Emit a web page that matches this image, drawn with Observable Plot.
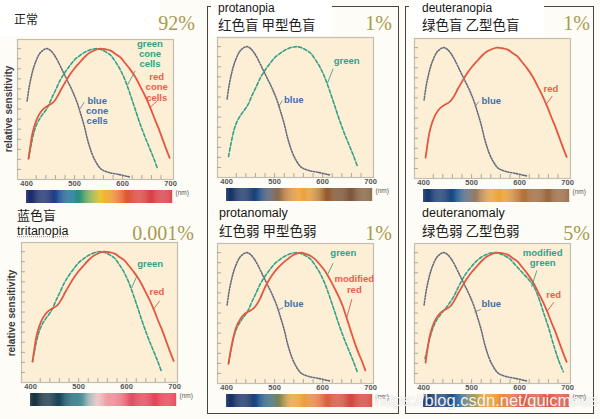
<!DOCTYPE html>
<html><head><meta charset="utf-8">
<script src="https://cdn.jsdelivr.net/npm/d3@7"></script>
<script src="https://cdn.jsdelivr.net/npm/@observablehq/plot@0.6"></script>
<style>
html,body{margin:0;padding:0;background:#fdfcf6;}
#root{position:relative;width:600px;height:419px;overflow:hidden;background:#fdfcf6;font-family:"Liberation Sans",Arial,sans-serif;}
.box{position:absolute;border:1.5px solid #4a443f;box-sizing:border-box;}
.cover{position:absolute;background:#ffffff;}
.en{position:absolute;font-family:"Liberation Sans",Arial,sans-serif;font-size:12px;line-height:13px;color:#151515;white-space:nowrap;}
.zh{position:absolute;font-family:"Noto Sans CJK SC";font-size:13.5px;line-height:1;color:#222;white-space:nowrap;}
.pct{position:absolute;font-family:"Liberation Serif","DejaVu Serif",serif;font-size:20px;line-height:1;color:#a89a50;white-space:nowrap;}
.ylab{position:absolute;font-family:"Liberation Sans",Arial,sans-serif;font-weight:bold;font-size:10px;line-height:1;color:#3c3c3c;white-space:nowrap;transform:translate(-50%,-50%) rotate(-90deg);}
.wm{position:absolute;font-family:"Liberation Sans",Arial,sans-serif;font-size:16.5px;line-height:1;color:rgba(255,255,255,0.92);text-shadow:0 0 1.5px rgba(90,90,90,0.35);white-space:nowrap;}
.plotwrap{position:absolute;}
</style>
</head><body>
<div id="root"></div>
<script>
// ---------- data (wavelength nm / relative sensitivity) ----------
const nmBlue  = [401,405,410,415,420,425,430,437,443,450,457,465,475,485,495,505,512,520,528,537,545,555,570,590,614];
const valBlue = [0.60,0.70,0.79,0.86,0.91,0.95,0.975,0.995,1.0,0.985,0.955,0.905,0.83,0.755,0.68,0.59,0.51,0.41,0.29,0.19,0.13,0.08,0.055,0.04,0.02];

const nmGreen  = [404,408,412,416,422,430,438,445,452,460,470,480,490,500,510,520,530,540,546,555,565,575,585,595,605,615,625,635,645,655,665,672];
const valGreen = [0.16,0.24,0.31,0.37,0.43,0.48,0.52,0.56,0.62,0.68,0.76,0.82,0.87,0.915,0.945,0.97,0.988,0.998,1.0,0.993,0.975,0.95,0.9,0.84,0.76,0.66,0.55,0.44,0.34,0.25,0.16,0.09];

const nmRed  = [404,408,412,418,425,435,445,452,458,465,472,480,490,500,512,522,532,543,553,565,575,585,595,605,616,627,637,648,658,666,674,682,690,698];
const valRed = [0.16,0.26,0.35,0.43,0.49,0.54,0.565,0.58,0.6,0.64,0.69,0.74,0.8,0.85,0.9,0.94,0.97,0.99,1.0,0.995,0.985,0.96,0.935,0.89,0.84,0.78,0.71,0.63,0.545,0.47,0.4,0.32,0.24,0.165];

const nmModRed  = [404,408,414,420,428,437,446,455,462,470,478,485,495,506,517,527,538,548,556,565,575,584,594,605,616,626,634,642,650,658,666,674,682,689];
const valModRed = [0.15,0.24,0.35,0.43,0.49,0.53,0.55,0.57,0.6,0.65,0.72,0.77,0.83,0.88,0.92,0.95,0.98,0.995,1.0,0.99,0.975,0.95,0.91,0.86,0.79,0.72,0.66,0.59,0.5,0.41,0.32,0.24,0.17,0.1];

const nmModGreen  = [403,408,414,420,428,436,445,453,462,470,480,490,500,510,520,530,540,550,560,570,580,590,600,610,620,628,635,642,650,660,672,682,691];
const valModGreen = [0.19,0.27,0.36,0.43,0.49,0.53,0.57,0.61,0.66,0.72,0.79,0.85,0.895,0.935,0.965,0.985,0.997,1.0,0.99,0.975,0.95,0.91,0.87,0.83,0.79,0.75,0.70,0.63,0.54,0.43,0.28,0.17,0.09];

// panel texts
const titleEn     = ["", "protanopia", "deuteranopia", "tritanopia", "protanomaly", "deuteranomaly"];
const titleZh     = ["正常", "红色盲 甲型色盲", "绿色盲 乙型色盲", "蓝色盲", "红色弱 甲型色弱", "绿色弱 乙型色弱"];
const percentText = ["92%", "1%", "1%", "0.001%", "1%", "5%"];
const panelCurves = [
  ["blue","green","red"],
  ["blue","green"],
  ["blue","red"],
  ["green","red"],
  ["blue","green","modRed"],
  ["blue","modGreen","red"]
];
// curve labels: text, wavelength, sensitivity, colour key
const panelLabels = [
  [["blue\ncone\ncells",547,0.636,"blue"],["green\ncone\ncells",657,1.07,"green"],["red\ncone\ncells",671,0.816,"red"]],
  [["green",650,0.926,"green"],["blue",540,0.625,"blue"]],
  [["red",665,0.716,"red"],["blue",541,0.625,"blue"]],
  [["green",649,0.938,"green"],["red",663,0.722,"red"]],
  [["green",643,1.03,"green"],["modified\nred",666,0.829,"red"],["blue",540,0.644,"blue"]],
  [["modified\ngreen",648,1.034,"green"],["red",671,0.71,"red"],["blue",541,0.644,"blue"]]
];
// leader lines: nm1, s1, nm2, s2, colour key
const panelLeaders = [
  [[520,0.59,510,0.535,"blue"],[626,0.83,610,0.72,"green"],[672,0.6,657,0.55,"red"]],
  [[622,0.833,610,0.72,"green"],[516,0.588,508,0.54,"blue"]],
  [[668,0.63,655,0.565,"red"],[515,0.588,507,0.55,"blue"]],
  [[621,0.81,610,0.72,"green"],[669,0.625,656,0.56,"red"]],
  [[622,0.92,610,0.83,"green"],[661,0.645,650,0.5,"red"],[518,0.58,507,0.56,"blue"]],
  [[636,0.864,625,0.74,"green"],[671,0.62,657,0.55,"red"],[519,0.566,506,0.545,"blue"]]
];
// colour bar stops
const barNm = [
  [400,449,467,497,518,539,556,573,594,621,655,704],
  [400,449,470,497,525,552,573,607,635,704],
  [400,449,470,491,512,540,568,595,630,704],
  [400,449,477,498,519,540,561,589,616,704],
  [400,449,471,492,513,534,555,584,612,654,704],
  [400,455,475,495,515,535,555,575,595,625,704]
];
const barColors = [
  ["#1e2b6a","#1f3577","#1e4f94","#1f7c9a","#3a9a6a","#9ab440","#f0c233","#f0a030","#e87032","#d94a3a","#d8444a","#d84048"],
  ["#1a3568","#1b3a6e","#1f4f8a","#6a6060","#c08040","#f0a542","#e8a040","#9a6030","#7a5035","#8a6848"],
  ["#1a3a70","#1b3f76","#1e5590","#5a6a80","#a08060","#e8a040","#f0a838","#c07a3a","#a06a40","#9a6a48"],
  ["#1a3440","#1b3c4c","#1a5a70","#2a7a8a","#8ab0b0","#e8c0c0","#f0a0a8","#e87080","#e04a60","#e84458"],
  ["#1a3268","#1b376e","#1f5590","#3a7080","#8a8a50","#e8a040","#f0a840","#e88040","#d86040","#d04a40","#d84a40"],
  ["#1e3a6e","#1f4c8a","#2060a0","#7a8a70","#c8a84a","#f0a030","#f09a38","#e87840","#e0684a","#e0604a","#e05848"]
];

// ---------- layout (pixels) ----------
const layout = [
  {fl:17, ft:39}, {fl:217, ft:37}, {fl:414, ft:38},
  {fl:21, ft:242}, {fl:217, ft:243}, {fl:414, ft:243}
];
const FW = 156, FH = 140;
const xDomain = [381, 706];
const yDomain = [0, 1.07];
const xTickLabels = [400, 500, 600, 700];
const xMinorTicks = d3.range(420, 700, 20);
const yMinorTicks = d3.range(1, 14).map(k => k / 13);

const curveData = {
  blue: nmBlue.map((n,i)=>({nm:n, s:valBlue[i]})),
  green: nmGreen.map((n,i)=>({nm:n, s:valGreen[i]})),
  red: nmRed.map((n,i)=>({nm:n, s:valRed[i]})),
  modRed: nmModRed.map((n,i)=>({nm:n, s:valModRed[i]})),
  modGreen: nmModGreen.map((n,i)=>({nm:n, s:valModGreen[i]}))
};
const curveStyle = {
  blue: {stroke:"#676d7c", strokeWidth:1.6, strokeDasharray:"1.3,1.6"},
  green: {stroke:"#34a085", strokeWidth:1.6, strokeDasharray:"3.5,2"},
  modGreen: {stroke:"#34a085", strokeWidth:1.6, strokeDasharray:"3.5,2"},
  red: {stroke:"#e4573f", strokeWidth:1.8},
  modRed: {stroke:"#e4573f", strokeWidth:1.8}
};
const labelColor = {blue:"#4270a8", green:"#2fa38a", red:"#e8604a"};
const leaderColor = {blue:"#6f86a6", green:"#4a9c8a", red:"#c8604e"};

const root = document.getElementById("root");
function addDiv(cls, text, style) {
  const d = document.createElement("div");
  d.className = cls;
  d.textContent = text;
  Object.assign(d.style, style);
  root.appendChild(d);
  return d;
}

// column boxes
addDiv("box", "", {left:"207px", top:"6px", width:"192px", height:"408px"});
addDiv("box", "", {left:"405px", top:"6px", width:"189px", height:"408px"});
addDiv("cover", "", {left:"211px", top:"0px", width:"121px", height:"36px"});
addDiv("cover", "", {left:"409px", top:"0px", width:"135px", height:"36px"});
addDiv("cover", "", {left:"0px", top:"0px", width:"160px", height:"36px"});

function chart(p) {
  const L = layout[p];
  const marks = [
    Plot.frame({fill:"#fcefd6", stroke:"#c4beb2", strokeWidth:1.2}),
    Plot.ruleY(yMinorTicks, {y:d=>d, insetRight: FW - 4, stroke:"#a49f96", strokeWidth:0.9}),
    Plot.ruleX(xMinorTicks, {x:d=>d, insetTop: FH - 4, stroke:"#a49f96", strokeWidth:0.9}),
    Plot.axisX({ticks: xTickLabels, tickSize:0, tickPadding:1, fontSize:7.5, fontWeight:"bold", fill:"#555", label:null})
  ];
  for (const c of panelCurves[p]) {
    marks.push(Plot.line(curveData[c], {x:"nm", y:"s", curve:"catmull-rom", ...curveStyle[c]}));
  }
  const leaders = panelLeaders[p].map(([a,b,c,d,k]) => ({x1:a, y1:b, x2:c, y2:d, col:leaderColor[k]}));
  marks.push(Plot.link(leaders, {x1:"x1", y1:"y1", x2:"x2", y2:"y2", stroke:"col", strokeWidth:0.9}));
  const labels = panelLabels[p].map(([t,n,s,k]) => ({t, nm:n, s, col:labelColor[k]}));
  marks.push(Plot.text(labels, {x:"nm", y:"s", text:"t", fill:"col", fontSize:9.5, fontWeight:"bold", lineAnchor:"top", lineHeight:1.08, textAnchor:"middle"}));

  const svg = Plot.plot({
    width: FW + 24, height: FH + 14,
    marginLeft: 2, marginRight: 22, marginTop: 2, marginBottom: 12,
    x: {domain: xDomain},
    y: {domain: yDomain, axis: null},
    color: {type: "identity"},
    style: {background: "transparent", overflow: "visible", fontFamily: "Liberation Sans, Arial, sans-serif"},
    marks
  });
  const w = document.createElement("div");
  w.className = "plotwrap";
  w.style.left = (L.fl - 2) + "px";
  w.style.top = (L.ft - 2) + "px";
  w.appendChild(svg);
  root.appendChild(w);

  // colour bar
  const interp = d3.scaleLinear().domain(barNm[p]).range(barColors[p]).interpolate(d3.interpolateRgb).clamp(true);
  const slices = d3.range(400, 704, 2).map(a => ({a, b: a + 2.3, c: interp(a + 1)}));
  const bar = Plot.plot({
    width: FW + 24, height: 16,
    marginLeft: 2, marginRight: 22, marginTop: 3, marginBottom: 0,
    x: {domain: xDomain, axis: null},
    color: {type: "identity"},
    style: {background: "transparent", overflow: "visible", fontFamily: "Liberation Sans, Arial, sans-serif"},
    marks: [
      Plot.rect(slices, {x1:"a", x2:"b", fill:"c"}),
      Plot.text(["(nm)"], {frameAnchor:"top-right", textAnchor:"start", dx:2, dy:0, fontSize:6.5, fill:"#555"})
    ]
  });
  const wb = document.createElement("div");
  wb.className = "plotwrap";
  wb.style.left = (L.fl - 2) + "px";
  wb.style.top = (L.ft + FH + 11 - 3) + "px";
  wb.appendChild(bar);
  root.appendChild(wb);
}
for (let p = 0; p < 6; p++) chart(p);

// titles
addDiv("zh", titleZh[0], {left:"14px", top:"13px", fontSize:"12px"});
addDiv("en", titleEn[1], {left:"218px", top:"2px"});
addDiv("zh", titleZh[1], {left:"218px", top:"18px"});
addDiv("en", titleEn[2], {left:"422px", top:"2px"});
addDiv("zh", titleZh[2], {left:"422px", top:"18px"});
addDiv("zh", titleZh[3], {left:"17px", top:"208px", fontSize:"13px"});
addDiv("en", titleEn[3], {left:"17px", top:"225px", fontSize:"12.5px", textDecoration:"underline dotted #c09a9a"});
addDiv("en", titleEn[4], {left:"219px", top:"207px", fontSize:"12.5px"});
addDiv("zh", titleZh[4], {left:"219px", top:"224px"});
addDiv("en", titleEn[5], {left:"422px", top:"207px", fontSize:"12.5px"});
addDiv("zh", titleZh[5], {left:"422px", top:"224px"});

// percentages
const pctRight = [195, 392, 590, 194, 392, 590];
const pctTop = [13, 13, 13, 223, 223, 223];
for (let p = 0; p < 6; p++) addDiv("pct", percentText[p], {right:(600 - pctRight[p]) + "px", top: pctTop[p] + "px"});

// axis titles
addDiv("ylab", "relative sensitivity", {left:"9px", top:"109px"});
addDiv("ylab", "relative sensitivity", {left:"11.5px", top:"313px"});

// watermark
addDiv("wm", "https://blog.csdn.net/quicmous", {left:"375px", top:"392px"});
</script>
</body></html>
